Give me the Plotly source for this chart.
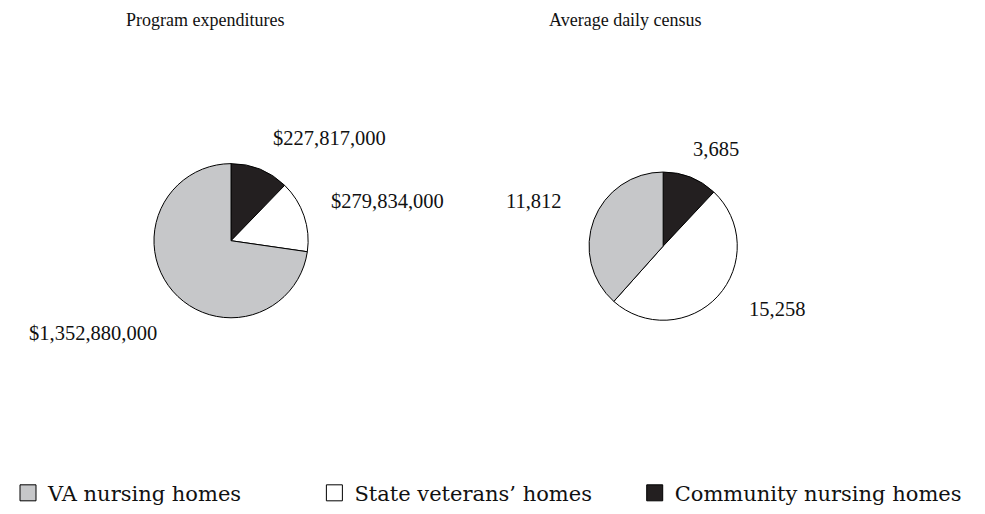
import plotly.graph_objects as go

categories = ["VA nursing homes", "State veterans\u2019 homes", "Community nursing homes"]
expenditures = [1352880000, 279834000, 227817000]
census = [11812, 15258, 3685]
expenditure_labels = ["$1,352,880,000", "$279,834,000", "$227,817,000"]
census_labels = ["11,812", "15,258", "3,685"]
colors = ["#c6c7c9", "#ffffff", "#231f20"]
titles = ["Program expenditures", "Average daily census"]

# page body has an 8px margin; work in screen coordinates and shift
OFF = 8
W, H = 985 - OFF, 514 - OFF
serif = "Liberation Serif"

def px(x):
    return (x - OFF) / W

def py(y):
    return 1 - (y - OFF) / H

def dom(cx, cy, r):
    return dict(x=[px(cx - r), px(cx + r)], y=[py(cy + r), py(cy - r)])

fig = go.Figure()
for vals, d in [(expenditures, dom(229.5, 243.5, 78)), (census, dom(662.5, 249, 75))]:
    fig.add_trace(go.Pie(
        labels=categories[::-1], values=vals[::-1], sort=False, direction="clockwise",
        rotation=0, textinfo="none", hoverinfo="label+value",
        marker=dict(colors=colors[::-1], line=dict(color="#000000", width=1)),
        domain=d, showlegend=False,
    ))

# legend entries, one legend per item so each can sit at its own position
legend_names = ["legend", "legend2", "legend3"]
legend_left = [6, 313, 634]
for cat, col, lg in zip(categories, colors, legend_names):
    fig.add_trace(go.Scatter(
        x=[None], y=[None], mode="markers", name=cat, legend=lg, showlegend=True,
        marker=dict(symbol="square", size=16, color=col, line=dict(color="#000000", width=1)),
    ))

annots = []
for t, (cx, cy) in zip(titles, [(203, 20), (625, 20)]):
    annots.append(dict(text=t, x=px(cx), y=py(cy), xref="paper", yref="paper",
                       showarrow=False, xanchor="center", yanchor="middle",
                       font=dict(family=serif, size=18, color="#111")))
exp_pos = [(91, 337), (386, 203), (328, 140)]
cen_pos = [(533, 203), (777, 313), (715, 151)]
for lab, (cx, cy) in zip(expenditure_labels + census_labels, exp_pos + cen_pos):
    annots.append(dict(text=lab, x=px(cx), y=py(cy), xref="paper", yref="paper",
                       showarrow=False, xanchor="center", yanchor="middle",
                       font=dict(family=serif, size=20.5, color="#111")))

layout_legends = {}
for lg, lx in zip(legend_names, legend_left):
    layout_legends[lg] = dict(
        orientation="h", x=px(lx), xanchor="left", y=py(499), yanchor="middle",
        itemsizing="trace", font=dict(family="DejaVu Serif", size=21, color="#111"),
        bgcolor="rgba(0,0,0,0)",
    )

fig.update_layout(
    width=W, height=H,
    margin=dict(l=0, r=0, t=0, b=0),
    paper_bgcolor="white", plot_bgcolor="white",
    xaxis=dict(visible=False), yaxis=dict(visible=False),
    annotations=annots,
    **layout_legends,
)

fig.write_html("out.html")
